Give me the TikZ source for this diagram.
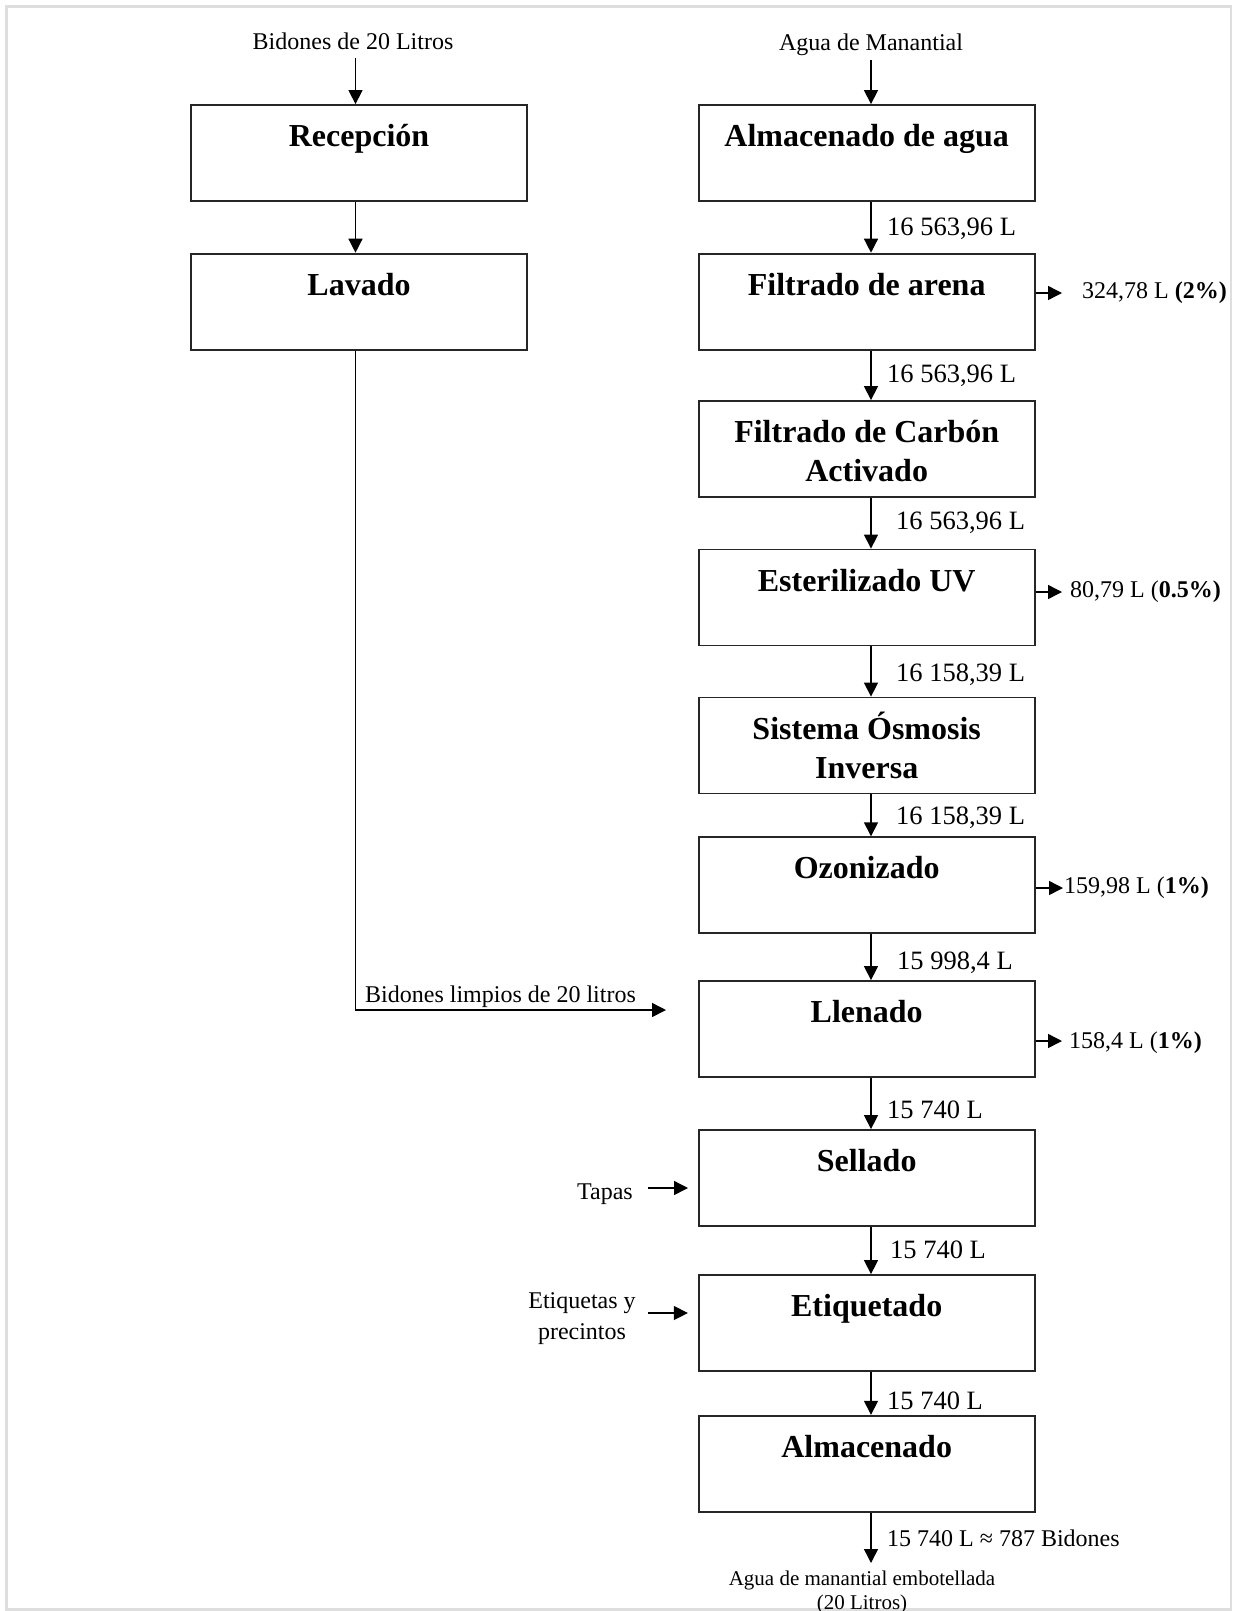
\documentclass[tikz,border=0pt]{standalone}
\usepackage{fontspec}
\setmainfont{Liberation Serif}
\usetikzlibrary{arrows.meta}

% two-line stage caption: first line strut on top, small depth below the last line
\newcommand{\stagetext}[2]{\rule{0pt}{31pt}#1\\#2\rule[-5pt]{0pt}{5pt}}

\begin{document}
\begin{tikzpicture}[x=1pt,y=-1pt,
  stage/.style={draw=black!85, line width=1.8pt, minimum width=336pt,
    minimum height=96pt, inner sep=0pt, align=center,
    font=\fontsize{32}{39}\selectfont\bfseries},
  flow/.style={anchor=west, inner sep=0pt, font=\fontsize{24}{28}\selectfont},
  qty/.style={flow, font=\fontsize{26.5}{30}\selectfont},
  src/.style={inner sep=0pt, outer ysep=9pt, font=\fontsize{24}{28}\selectfont},
  arr/.style={line width=1.4pt, -{Triangle[length=14pt,width=14pt]}}]

\useasboundingbox (0,0) rectangle (1233,1611);
\draw[line width=2.5pt, draw=black!13] (6.5,6.5) rectangle (1231,1609.5);

% columns of the connectors
\coordinate (cl) at (355.5,0);
\coordinate (cr) at (871,0);

% process stages
\node[stage] (rec) at (359,153)     {\stagetext{Recepción}{}};
\node[stage] (lav) at (359,301.6)   {\stagetext{Lavado}{}};
\node[stage] (alm) at (866.7,153)   {\stagetext{Almacenado de agua}{}};
\node[stage] (are) at (866.7,301.6) {\stagetext{Filtrado de arena}{}};
\node[stage] (car) at (866.7,449)   {\stagetext{Filtrado de Carbón}{Activado}};
\node[stage] (uv)  at (866.7,597.5) {\stagetext{Esterilizado UV}{}};
\node[stage] (osm) at (866.7,745.5) {\stagetext{Sistema Ósmosis}{Inversa}};
\node[stage] (ozo) at (866.7,885.2) {\stagetext{Ozonizado}{}};
\node[stage] (lle) at (866.7,1029)  {\stagetext{Llenado}{}};
\node[stage] (sel) at (866.7,1178)  {\stagetext{Sellado}{}};
\node[stage] (eti) at (866.7,1323)  {\stagetext{Etiquetado}{}};
\node[stage] (fin) at (866.7,1463.7){\stagetext{Almacenado}{}};

% inputs
\node[src] (srcB) at (353,41) {Bidones de 20 Litros};
\node[src, outer ysep=4.5pt] (srcA) at (871,45) {Agua de Manantial};
\draw[arr] (srcB.south -| cl) -- (rec.north -| cl);
\draw[arr] (srcA.south -| cr) -- (alm.north -| cr);
\draw[arr] (rec.south -| cl) -- (lav.north -| cl);

% main water line
\draw[arr] (alm.south -| cr) -- (are.north -| cr);
\draw[arr] (are.south -| cr) -- (car.north -| cr);
\draw[arr] (car.south -| cr) -- (uv.north -| cr);
\draw[arr] (uv.south -| cr)  -- (osm.north -| cr);
\draw[arr] (osm.south -| cr) -- (ozo.north -| cr);
\draw[arr] (ozo.south -| cr) -- (lle.north -| cr);
\draw[arr] (lle.south -| cr) -- (sel.north -| cr);
\draw[arr] (sel.south -| cr) -- (eti.north -| cr);
\draw[arr] (eti.south -| cr) -- (fin.north -| cr);

% flow quantities
\node[qty] (q1) at (887,229)  {16 563,96 L};
\node[qty] (q2) at (887,376)  {16 563,96 L};
\node[qty] (q3) at (896,523)  {16 563,96 L};
\node[qty] (q4) at (896,675)  {16 158,39 L};
\node[qty] (q5) at (896,818)  {16 158,39 L};
\node[qty] (q6) at (897,963)  {15 998,4 L};
\node[qty] (q7) at (887,1110) {15 740 L};
\node[qty] (q8) at (890,1250) {15 740 L};
\node[qty] (q9) at (887,1401) {15 740 L};
\node[flow] (q10) at (887,1538) {15 740 L ≈ 787 Bidones};

% losses
\node[flow] (w1) at (1082,293)  {324,78 L \textbf{(2\%)}};
\node[flow] (w2) at (1070,592)  {80,79 L (\textbf{0.5\%)}};
\node[flow] (w3) at (1064,888)  {159,98 L (\textbf{1\%)}};
\node[flow] (w4) at (1069,1043) {158,4 L (\textbf{1\%)}};
\draw[arr] (are.east |- w1.west) -- ([xshift=-20pt]w1.west);
\draw[arr] (uv.east |- w2.west)  -- ([xshift=-8pt]w2.west);
\draw[arr] (ozo.east |- w3.west) -- ([xshift=-1pt]w3.west);
\draw[arr] ([yshift=2pt]lle.east |- w4.west) -- ([xshift=-7pt,yshift=2pt]w4.west);

% clean containers to filling
\node[flow] (clean) at (365,997) {Bidones limpios de 20 litros};
\coordinate (llin) at (666,1010);
\draw[arr] (lav.south -| cl) |- (llin);

% auxiliary materials
\node[flow, anchor=east] (tap) at (633,1194) {Tapas};
\draw[arr] ([xshift=15pt,yshift=6pt]tap.east) -- ([xshift=55pt,yshift=6pt]tap.east);
\node[inner sep=0pt, align=center, font=\fontsize{24}{31}\selectfont] (etq) at (582,1319) {Etiquetas y\\precintos};
\draw[arr] ([xshift=12pt,yshift=6pt]etq.east) -- ([xshift=52pt,yshift=6pt]etq.east);

% product
\node[anchor=north, inner sep=0pt, outer ysep=8pt, align=center,
  font=\fontsize{21}{24}\selectfont] (out) at (862,1563)
  {Agua de manantial embotellada\\(20 Litros)};
\draw[arr] (fin.south -| cr) -- (out.north -| cr);
\end{tikzpicture}
\end{document}
